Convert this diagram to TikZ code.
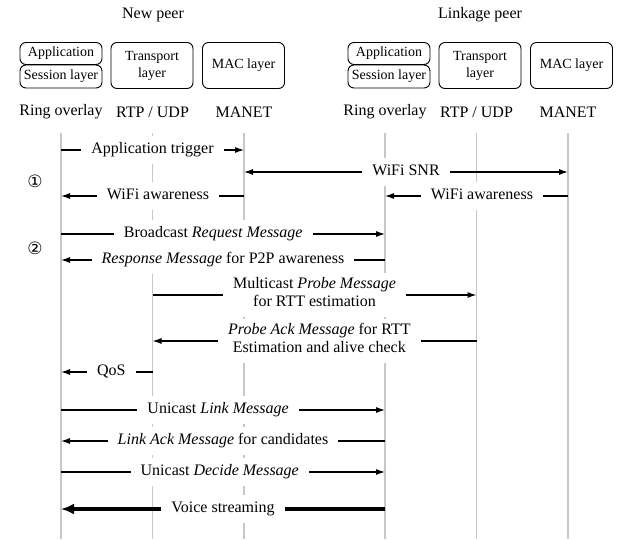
\documentclass[tikz,border=0pt]{standalone}
\usepackage{fontspec}
\setmainfont{Liberation Serif}
\newfontfamily\circfont{DejaVu Sans}
\usetikzlibrary{arrows.meta,positioning}

\begin{document}
\begin{tikzpicture}[x=1pt,y=-1pt,node distance=91.5pt,>={Latex[length=9pt,width=6pt]},
  every node/.style={font=\fontsize{16}{18}\selectfont}]
\tikzstyle{layer}=[draw=black,line width=0.9pt,rounded corners=6pt,minimum width=82pt,inner xsep=3pt,align=center,font=\fontsize{14}{17}\selectfont]
\tikzstyle{lifeline}=[draw=black!22,line width=1.2pt]
\tikzstyle{msg}=[draw=black,line width=1.1pt]
\tikzstyle{voice}=[draw=black,line width=4pt,-{Latex[length=13pt,width=11pt]}]
\tikzstyle{lbl}=[fill=white,inner xsep=10pt,inner ysep=5pt,align=center,execute at begin node=\strut,execute at end node=\strut]
\useasboundingbox (0,0) rectangle (619,539);
% peers and layers
\node (npeer) at (153,15) {New peer};
\node (lpeer) at (480,15) {Linkage peer};
\node (nring) at (61,112) {Ring overlay};
\node[right of=nring] (nrtp) {RTP / UDP};
\node[right of=nrtp] (nmac) {MANET};
\node (lring) at (385,112) {Ring overlay};
\node[right of=lring] (lrtp) {RTP / UDP};
\node[right of=lrtp] (lmac) {MANET};
\node[layer,minimum height=22pt] (napp) at (61,53.5) {Application};
\node[layer,minimum height=23pt] (nses) at (61,76.5) {Session layer};
\node[layer,minimum height=46pt] (ntrans) at (152,65.5) {Transport\\layer};
\node[layer,minimum height=46pt] (nmacl) at (243.5,65.5) {MAC layer};
\node[layer,minimum height=22pt] (lapp) at (389,53.5) {Application};
\node[layer,minimum height=23pt] (lses) at (389,76.5) {Session layer};
\node[layer,minimum height=46pt] (ltrans) at (480,65.5) {Transport\\layer};
\node[layer,minimum height=46pt] (lmacl) at (571.5,65.5) {MAC layer};
% lifelines
\foreach \p in {nring,nrtp,nmac,lring,lrtp,lmac}
  \draw[lifeline] (\p |- 0,133) -- (\p |- 0,539);
\node[font={\circfont\fontsize{17}{19}\selectfont}] (c1) at (35,181) {①};
\node[font={\circfont\fontsize{17}{19}\selectfont}] (c2) at (35,248) {②};
% messages
\draw[msg,->] (nring |- 0,150) -- node[lbl] (m1) {Application trigger} (nmac |- 0,150);
\draw[msg,<->] (nmac |- 0,172) -- node[lbl] (m2) {WiFi SNR} (lmac |- 0,172);
\draw[msg,->] (nmac |- 0,196) -- node[lbl,pos=0.47] (m3) {WiFi awareness} (nring |- 0,196);
\draw[msg,->] (lmac |- 0,196) -- node[lbl,pos=0.47] (m4) {WiFi awareness} (lring |- 0,196);
\draw[msg,->] (nring |- 0,234) -- node[lbl,pos=0.47] (m5) {Broadcast \textit{Request Message}} (lring |- 0,234);
\draw[msg,->] (lring |- 0,260) -- node[lbl] (m6) {\textit{Response Message} for P2P awareness} (nring |- 0,260);
\draw[msg,->] (nrtp |- 0,295) -- node[lbl] (m7) {Multicast \textit{Probe Message}\\for RTT estimation} (lrtp |- 0,295);
\draw[msg,->] (lrtp |- 0,341) -- node[lbl,pos=0.485] (m8) {\textit{Probe Ack Message} for RTT\\Estimation and alive check} (nrtp |- 0,341);
\draw[msg,->] (nrtp |- 0,372) -- node[lbl,pos=0.45] (m9) {QoS} (nring |- 0,372);
\draw[msg,->] (nring |- 0,410) -- node[lbl,pos=0.485] (m10) {Unicast \textit{Link Message}} (lring |- 0,410);
\draw[msg,->] (lring |- 0,441) -- node[lbl] (m11) {\textit{Link Ack Message} for candidates} (nring |- 0,441);
\draw[msg,->] (nring |- 0,472) -- node[lbl,pos=0.49] (m12) {Unicast \textit{Decide Message}} (lring |- 0,472);
\draw[voice] (lring |- 0,509) -- node[lbl] (m13) {Voice streaming} (nring |- 0,509);
\end{tikzpicture}
\end{document}
